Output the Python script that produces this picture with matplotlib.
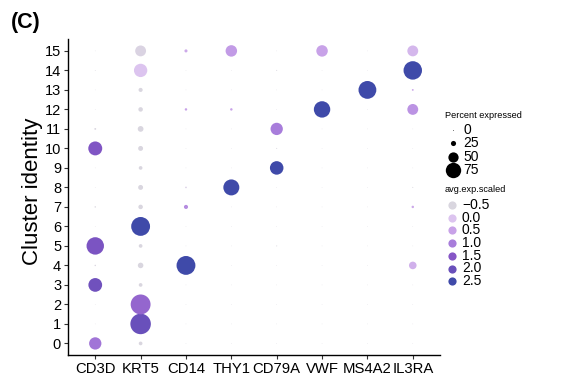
import numpy as np
import matplotlib
matplotlib.use("Agg")
import matplotlib.pyplot as plt
from matplotlib.colors import LinearSegmentedColormap

plt.rcParams['font.family'] = ['Liberation Sans', 'DejaVu Sans']

genes = ['CD3D', 'KRT5', 'CD14', 'THY1', 'CD79A', 'VWF', 'MS4A2', 'IL3RA']
clusters = list(range(16))

# percent of cells expressing, per cluster 0..15
pct_CD3D = [60, 3, 3, 67, 7, 85, 3, 7, 3, 3, 68, 9, 3, 3, 4, 3]
pct_KRT5 = [18, 100, 97, 18, 27, 18, 92, 22, 24, 18, 24, 28, 22, 20, 65, 53]
pct_CD14 = [3, 3, 3, 3, 92, 3, 3, 20, 8, 3, 3, 3, 12, 3, 3, 15]
pct_THY1 = [3, 3, 3, 3, 3, 3, 3, 3, 78, 3, 3, 3, 12, 3, 3, 56]
pct_CD79A = [3, 3, 3, 3, 3, 5, 3, 3, 3, 66, 5, 60, 3, 3, 5, 3]
pct_VWF = [3, 3, 3, 3, 3, 3, 3, 3, 3, 3, 3, 3, 80, 3, 3, 56]
pct_MS4A2 = [3, 3, 3, 3, 3, 3, 3, 3, 3, 3, 3, 3, 3, 87, 3, 3]
pct_IL3RA = [3, 3, 3, 3, 37, 3, 3, 12, 5, 3, 3, 3, 53, 9, 90, 53]

# scaled average expression, per cluster 0..15
avg_CD3D = [1.1, -0.5, -0.5, 1.9, -0.5, 1.7, -0.5, -0.5, -0.5, -0.5, 1.6, -0.5, -0.5, -0.5, -0.5, -0.5]
avg_KRT5 = [-0.5, 2.0, 1.3, -0.5, -0.5, -0.5, 2.5, -0.5, -0.5, -0.5, -0.5, -0.5, -0.5, -0.5, 0.0, -0.4]
avg_CD14 = [-0.5, -0.5, -0.5, -0.5, 2.5, -0.5, -0.5, 0.8, -0.3, -0.5, -0.5, -0.5, 0.5, -0.5, -0.5, 0.4]
avg_THY1 = [-0.5, -0.5, -0.5, -0.5, -0.5, -0.5, -0.5, -0.5, 2.5, -0.5, -0.5, -0.5, 0.5, -0.5, -0.5, 0.6]
avg_CD79A = [-0.5, -0.5, -0.5, -0.5, -0.5, -0.5, -0.5, -0.5, -0.5, 2.5, -0.5, 1.0, -0.5, -0.5, -0.5, -0.5]
avg_VWF = [-0.5, -0.5, -0.5, -0.5, -0.5, -0.5, -0.5, -0.5, -0.5, -0.5, -0.5, -0.5, 2.5, -0.5, -0.5, 0.5]
avg_MS4A2 = [-0.5, -0.5, -0.5, -0.5, -0.5, -0.5, -0.5, -0.5, -0.5, -0.5, -0.5, -0.5, -0.5, 2.5, -0.5, -0.5]
avg_IL3RA = [-0.5, -0.5, -0.5, -0.5, 0.3, -0.5, -0.5, 0.4, -0.5, -0.5, -0.5, -0.5, 0.7, 0.4, 2.5, 0.2]

pct = [pct_CD3D, pct_KRT5, pct_CD14, pct_THY1, pct_CD79A, pct_VWF, pct_MS4A2, pct_IL3RA]
avg = [avg_CD3D, avg_KRT5, avg_CD14, avg_THY1, avg_CD79A, avg_VWF, avg_MS4A2, avg_IL3RA]

size_breaks = [0, 25, 50, 75]
color_breaks = [-0.5, 0.0, 0.5, 1.0, 1.5, 2.0, 2.5]
break_colors = ['#d9d6df', '#dcc4ef', '#c8a2e8', '#a87ddb', '#8656c6', '#6a50bb', '#3f4aa9']

DPI = 100
cmap = LinearSegmentedColormap.from_list(
    'exp', [((v + 0.5) / 3.0, c) for v, c in zip(color_breaks, break_colors)])


def dot_size(p):
    # radius scale: diameter grows linearly with percent
    d_px = 0.205 * np.asarray(p, dtype=float)
    return (d_px * 72 / DPI) ** 2


fig = plt.figure(figsize=(5.67, 3.77), dpi=DPI)
ax = fig.add_axes([0.120, 0.058, 0.656, 0.838])

for i, g in enumerate(genes):
    ax.scatter(np.full(len(clusters), i + 1), clusters, s=dot_size(pct[i]),
               c=avg[i], cmap=cmap, vmin=-0.5, vmax=2.5, linewidths=0, zorder=3)

ax.set_xlim(0.4, 8.6)
ax.set_ylim(-0.6, 15.6)
ax.set_xticks(range(1, len(genes) + 1))
ax.set_xticklabels(genes, fontsize=10.7)
ax.set_yticks(clusters)
ax.set_yticklabels([str(c) for c in clusters], fontsize=10.5)
ax.tick_params(length=3, width=0.8, color='#333333', pad=2, labelcolor='black')
for side in ['top', 'right']:
    ax.spines[side].set_visible(False)
for side in ['left', 'bottom']:
    ax.spines[side].set_linewidth(1.0)
ax.set_ylabel('Cluster identity', fontsize=16)
ax.yaxis.set_label_coords(-0.068, 0.52)

fig.text(0.02, 0.94, '(C)', fontsize=15.5, fontweight='bold', va='center')

# legends, laid out in figure pixel coordinates
lax = fig.add_axes([0, 0, 1, 1], facecolor='none')
lax.set_xlim(0, 567)
lax.set_ylim(377, 0)
lax.axis('off')

lax.text(445, 115, 'Percent expressed', fontsize=6.6, va='center')
for k, b in enumerate(size_breaks):
    yy = 130 + k * 13.3
    lax.scatter([453], [yy], s=dot_size(b if b > 0 else 3), color='black', linewidths=0)
    lax.text(463, yy, str(b), fontsize=10, va='center')

lax.text(445, 189, 'avg.exp.scaled', fontsize=6.6, va='center')
for k, v in enumerate(color_breaks):
    yy = 205 + k * 12.7
    lax.scatter([452], [yy], s=dot_size(40), color=cmap((v + 0.5) / 3.0), linewidths=0)
    lax.text(462, yy, f'{v:.1f}'.replace('-', '\u2212'), fontsize=10, va='center')

fig.savefig('out.png', dpi=DPI)
